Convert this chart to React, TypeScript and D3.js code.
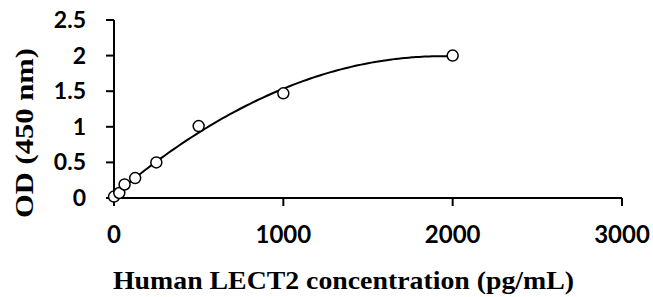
import React from 'react'
import * as d3 from 'd3'

// standard curve readings
const concentrations = [0, 31.25, 62.5, 125, 250, 500, 1000, 2000]
const odValues = [0.02, 0.07, 0.19, 0.28, 0.5, 1.01, 1.47, 2.0]

const xTicks = [0, 1000, 2000, 3000]
const yTicks = [0, 0.5, 1, 1.5, 2, 2.5]

const width = 653
const height = 297
const margin = { top: 20, right: 31, bottom: 99, left: 114 }

// 2nd order polynomial trendline (least squares), like the spreadsheet one
function polyFit(xs: number[], ys: number[]) {
  const n = xs.length
  let s1 = 0, s2 = 0, s3 = 0, s4 = 0, t0 = 0, t1 = 0, t2 = 0
  xs.forEach((x, i) => {
    const y = ys[i]
    s1 += x; s2 += x * x; s3 += x * x * x; s4 += x * x * x * x
    t0 += y; t1 += x * y; t2 += x * x * y
  })
  const m = [[n, s1, s2, t0], [s1, s2, s3, t1], [s2, s3, s4, t2]]
  for (let c = 0; c < 3; c++) {
    for (let r = c + 1; r < 3; r++) {
      const f = m[r][c] / m[c][c]
      for (let k = c; k < 4; k++) m[r][k] -= f * m[c][k]
    }
  }
  const coef = [0, 0, 0]
  for (let r = 2; r >= 0; r--) {
    let s = m[r][3]
    for (let k = r + 1; k < 3; k++) s -= m[r][k] * coef[k]
    coef[r] = s / m[r][r]
  }
  return (x: number) => coef[0] + coef[1] * x + coef[2] * x * x
}

export default function App() {
  const x = d3.scaleLinear().domain([0, 3000]).range([margin.left, width - margin.right])
  const y = d3.scaleLinear().domain([0, 2.5]).range([height - margin.bottom, margin.top])

  const fit = polyFit(concentrations, odValues)
  const curvePts = d3.range(0, 2001, 20).map(c => [c, fit(c)] as [number, number])
  const line = d3.line<[number, number]>()
    .x(d => x(d[0]))
    .y(d => y(d[1]))
    .curve(d3.curveMonotoneX)

  const tickFont = 'Lato, "Open Sans", sans-serif'
  const titleFont = '"Liberation Serif", "DejaVu Serif", serif'
  const y0 = y(0)

  return (
    <svg width={width} height={height} style={{ position: 'absolute', left: 0, top: 0, background: '#fff' }}>
      {/* axes */}
      <line x1={x(0)} x2={x(3000)} y1={y0} y2={y0} stroke="#000" strokeWidth={2} />
      <line x1={x(0)} x2={x(0)} y1={y(0)} y2={y(2.5)} stroke="#000" strokeWidth={2} />

      {xTicks.map(t => (
        <g key={'x' + t}>
          <line x1={x(t)} x2={x(t)} y1={y0} y2={y0 + 8} stroke="#000" strokeWidth={2} />
          <text x={x(t)} y={243} textAnchor="middle" fontFamily={tickFont} fontWeight={700} fontSize={24}>
            {t}
          </text>
        </g>
      ))}

      {yTicks.map(t => (
        <g key={'y' + t}>
          <line x1={x(0) - 8} x2={x(0)} y1={y(t)} y2={y(t)} stroke="#000" strokeWidth={2} />
          <text x={86} y={y(t) + 8} textAnchor="end" fontFamily={tickFont} fontWeight={700} fontSize={23}>
            {t}
          </text>
        </g>
      ))}

      {/* trendline */}
      <path d={line(curvePts) || ''} fill="none" stroke="#000" strokeWidth={2} />

      {/* standards */}
      {concentrations.map((c, i) => (
        <circle key={i} cx={x(c)} cy={y(odValues[i])} r={5.5} fill="#fff" stroke="#000" strokeWidth={1.5} />
      ))}

      <text x={343.5} y={289} textAnchor="middle" fontFamily={titleFont}
        fontWeight={700} fontSize={26} textLength={461} lengthAdjust="spacingAndGlyphs">
        Human LECT2 concentration (pg/mL)
      </text>
      <text transform={`translate(33,${133}) rotate(-90)`} textAnchor="middle" fontFamily={titleFont}
        fontWeight={700} fontSize={26} textLength={170} lengthAdjust="spacingAndGlyphs">
        OD (450 nm)
      </text>
    </svg>
  )
}
